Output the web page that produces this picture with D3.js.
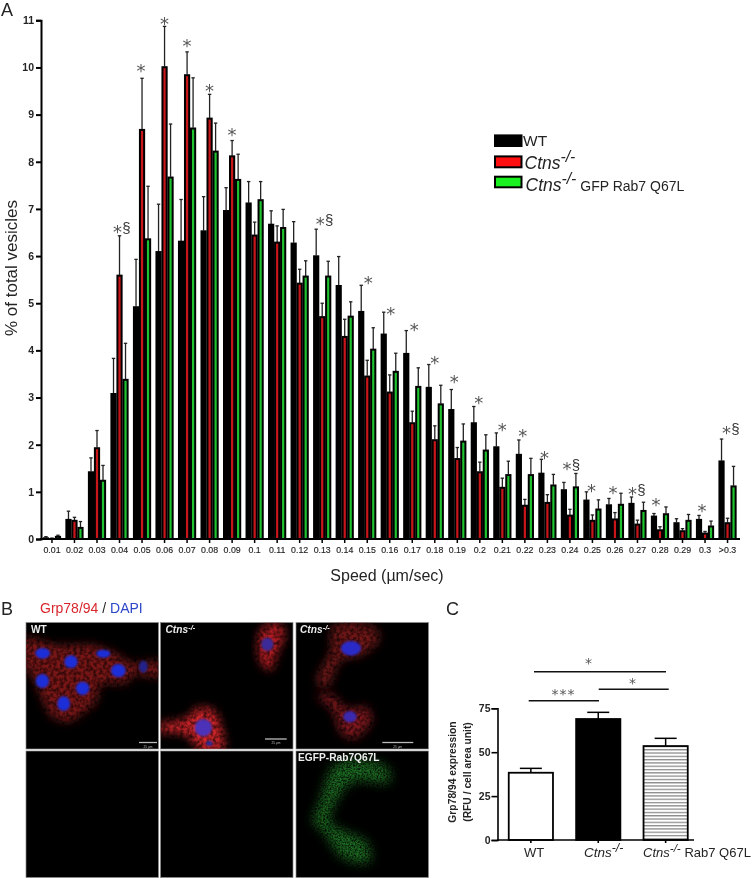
<!DOCTYPE html>
<html><head><meta charset="utf-8">
<script src="https://cdn.jsdelivr.net/npm/d3@7"></script>
<style>
html,body{margin:0;padding:0;background:#fff}
svg{display:block}
text{font-family:"Liberation Sans",Arial,sans-serif;opacity:.99}
</style></head><body><svg id="c" width="754" height="878"></svg>
<script>
const speedCats=["0.01","0.02","0.03","0.04","0.05","0.06","0.07","0.08","0.09","0.1","0.11","0.12","0.13","0.14","0.15","0.16","0.17","0.18","0.19","0.2","0.21","0.22","0.23","0.24","0.25","0.26","0.27","0.28","0.29","0.3",">0.3"];
const seriesNames=["WT","Ctns","GFP"];
const seriesFill=["#000000","#c8161a","#1fc22f"];
const wtVals=[.03,.42,1.43,3.09,4.93,6.1,6.32,6.54,6.97,7.13,6.68,6.28,6.01,5.38,4.83,4.35,3.94,3.22,2.75,2.47,1.96,1.8,1.4,1.05,.83,.73,.76,.49,.35,.42,1.66];
const wtTops=[.05,.59,1.72,3.83,5.93,7.1,7.2,7.26,7.45,7.58,6.96,6.73,6.57,5.99,5.38,4.81,4.42,3.7,3.17,2.81,2.25,2.1,1.69,1.2,1.0,.86,.89,.54,.43,.5,2.12];
const ctnsVals=[.01,.4,1.94,5.6,8.69,10.02,9.85,8.93,8.13,6.45,6.3,5.43,4.72,4.3,3.46,3.12,2.47,2.11,1.71,1.43,1.1,.72,.78,.51,.4,.43,.32,.2,.18,.13,.35];
const ctnsTops=[.02,.46,2.3,6.43,9.77,10.87,10.33,9.43,8.45,6.72,6.64,5.72,5.0,4.66,3.79,3.48,2.71,2.4,1.94,1.63,1.29,.84,.94,.63,.51,.56,.4,.26,.22,.16,.44];
const gfpVals=[.06,.25,1.25,3.39,6.37,7.68,8.72,8.23,7.63,7.2,6.61,5.58,5.58,4.73,4.03,3.56,3.24,2.87,2.08,1.89,1.37,1.37,1.15,1.11,.64,.74,.61,.54,.4,.28,1.13];
const gfpTops=[.08,.37,1.56,4.15,7.48,8.8,9.78,8.82,8.16,7.58,6.99,5.9,5.89,5.03,4.48,3.94,3.63,3.26,2.44,2.21,1.65,1.71,1.37,1.39,.83,.97,.78,.68,.52,.38,1.54];
const sigCats=["0.04","0.05","0.06","0.07","0.08","0.09","0.13","0.15","0.16","0.17","0.18","0.19","0.2","0.21","0.22","0.23","0.24","0.25","0.26","0.27","0.28","0.3",">0.3"];
const sigLevels=[6.6,10.0,11.01,10.53,9.59,8.65,6.77,5.52,4.86,4.51,3.82,3.41,2.96,2.4,2.26,1.8,1.57,1.11,1.06,1.03,.81,.68,2.33];
const sigMarks=["*§","*","*","*","*","*","*§","*","*","*","*","*","*","*","*","*","*§","*","*","*§","*","*","*§"];
const sigShift=[-1,-1,0,0,0,0,-1,1,1,2,0,-3,-1,0,-2,-3,-2,-1,-2,-4,-4,-3,0];
const yTicksA=[0,1,2,3,4,5,6,7,8,9,10,11];
const groupsC=["WT","Ctns","Rab7"];
const valsC=[38.3,68.9,53.5];
const topsC=[40.8,72.7,57.9];
const yTicksC=[0,25,50,75];

const svg=d3.select("#c");
const defs=svg.append("defs");

// ---------- Panel A
const xA=d3.scaleBand().domain(speedCats).range([40.7,738.8]).paddingInner(.2).paddingOuter(.1);
const sub=d3.scaleBand().domain(seriesNames).range([0,xA.bandwidth()]);
const yA=d3.scaleLinear().domain([0,11]).range([539,20.3]);
const gA=svg.append("g");
const sers=[[wtVals,wtTops],[ctnsVals,ctnsTops],[gfpVals,gfpTops]];
sers.forEach(([vals,tops],k)=>{
  const name=seriesNames[k];
  const g=gA.append("g");
  const rows=speedCats.map((c,i)=>({c,v:vals[i],t:tops[i]}));
  const cx=d=>xA(d.c)+sub(name)+sub.bandwidth()/2;
  g.selectAll("line.e").data(rows).join("line").attr("class","e")
    .attr("x1",cx).attr("x2",cx).attr("y1",d=>yA(d.v)).attr("y2",d=>yA(d.t))
    .attr("stroke","#222").attr("stroke-width",1.3);
  g.selectAll("line.c").data(rows).join("line").attr("class","c")
    .attr("x1",d=>cx(d)-1.7).attr("x2",d=>cx(d)+1.7).attr("y1",d=>yA(d.t)).attr("y2",d=>yA(d.t))
    .attr("stroke","#222").attr("stroke-width",1.3);
  g.selectAll("rect").data(rows).join("rect")
    .attr("x",d=>xA(d.c)+sub(name)+.9).attr("width",sub.bandwidth()-1.8)
    .attr("y",d=>yA(d.v)+.7).attr("height",d=>Math.max(0,yA(0)-yA(d.v)-.7))
    .attr("fill",seriesFill[k]).attr("stroke","#000").attr("stroke-width",2);
});
const axA=gA.append("g").attr("transform","translate(41,0)")
  .call(d3.axisLeft(yA).tickValues(yTicksA).tickSize(5).tickPadding(2).tickFormat(d3.format("d")));
axA.selectAll("path,line").attr("stroke","#000").attr("stroke-width",2);
axA.selectAll("text").attr("font-size",10.5).attr("font-weight","bold").attr("fill","#222");
const axAx=gA.append("g").attr("transform","translate(0,539)")
  .call(d3.axisBottom(xA).tickSize(4).tickPadding(4).tickSizeOuter(0));
axAx.selectAll("path,line").attr("stroke","#000").attr("stroke-width",1.5);
axAx.select("path").attr("d","M40,0H740").attr("stroke-width",2);
axAx.selectAll("text").attr("font-size",8.8).attr("fill","#222").attr("stroke","#222").attr("stroke-width",.15);

// significance marks, placed by level in data units
sigCats.forEach((c,i)=>{
  const x=xA(c)+xA.bandwidth()/2+sigShift[i], y=yA(sigLevels[i]);
  const m=sigMarks[i];
  const dx=m.length>1?-1:0;
  gA.append("text").text("*").attr("x",x+dx).attr("y",y+10).attr("text-anchor","middle")
    .attr("font-size",18).style("font-family","DejaVu Sans").attr("fill","#555");
  if(m.length>1) gA.append("text").text("§").attr("x",x+dx+9).attr("y",y+5).attr("text-anchor","middle")
    .attr("font-size",15).attr("fill","#333");
});

gA.append("text").text("% of total vesicles").attr("transform","translate(17,268) rotate(-90)")
  .attr("text-anchor","middle").attr("font-size",17).attr("fill","#222");
gA.append("text").text("Speed (µm/sec)").attr("x",387).attr("y",581).attr("text-anchor","middle")
  .attr("font-size",16).attr("fill","#222");

// legend
const sw=[[134.7,146.7],[155.7,168],[176,188]];
seriesNames.forEach((n,k)=>{
  gA.append("rect").attr("x",495).attr("y",sw[k][0]+.7).attr("width",26.5).attr("height",sw[k][1]-sw[k][0]-1.4)
    .attr("fill",k==0?"#000":k==1?"#ff0f0f":"#18f020").attr("stroke","#000").attr("stroke-width",2);
});
function ctnsLabel(g,x,y,fs,extra,extraFs){
  const t=g.append("text").attr("x",x).attr("y",y).attr("font-size",fs).attr("fill","#222");
  t.append("tspan").text("Ctns").attr("font-style","italic");
  t.append("tspan").text("-/-").attr("font-style","italic").attr("dy",-fs*.36).attr("font-size",fs*.9);
  if(extra) t.append("tspan").text(extra).attr("dy",fs*.36).attr("font-size",extraFs);
  return t;
}
gA.append("text").text("WT").attr("x",523).attr("y",146).attr("font-size",15.5).attr("fill","#222");
ctnsLabel(gA,524.5,168.5,17.5);
ctnsLabel(gA,525.5,190.5,17.5," GFP Rab7 Q67L",14);

// ---------- Panel letters
[["A",1,16.4],["B",1,615],["C",446,615]].forEach(([t,x,y])=>
  svg.append("text").text(t).attr("x",x).attr("y",y).attr("font-size",18).attr("fill","#222"));

// ---------- Panel B : micrograph sketches
const title=svg.append("text").attr("x",40).attr("y",613).attr("font-size",14);
title.append("tspan").text("Grp78/94").attr("fill","#d8242a");
title.append("tspan").text(" / ").attr("fill","#222");
title.append("tspan").text(" DAPI").attr("fill","#2a45c8");

function cellFilter(id,blur,freq,gain,off){
  const f=defs.append("filter").attr("id",id).attr("x","-20%").attr("y","-20%").attr("width","140%").attr("height","140%");
  f.append("feGaussianBlur").attr("in","SourceGraphic").attr("stdDeviation",blur).attr("result","b");
  f.append("feTurbulence").attr("type","fractalNoise").attr("baseFrequency",freq).attr("numOctaves",2).attr("seed",4).attr("result","n");
  f.append("feColorMatrix").attr("in","n").attr("type","matrix")
    .attr("values",`0 0 0 0 0 0 0 0 0 0 0 0 0 0 0 0 0 0 ${gain} ${off}`).attr("result","m");
  f.append("feComposite").attr("in","b").attr("in2","m").attr("operator","in");
}
cellFilter("redTex",15,.1,1.4,.05);
cellFilter("grnTex",16,.2,1.9,-.25);
const soft=defs.append("filter").attr("id","soft");
soft.append("feGaussianBlur").attr("stdDeviation",3);

const panels=[[26,622.5],[160.5,622.5],[296,622.5],[26,751],[160.5,751],[296,751]];
const pW=132.5,pH=126.5;
panels.forEach(([x,y],i)=>{
  defs.append("clipPath").attr("id","p"+i).append("rect").attr("x",x).attr("y",y).attr("width",pW).attr("height",pH);
  svg.append("rect").attr("x",x).attr("y",y).attr("width",pW).attr("height",pH).attr("fill","#000").attr("stroke","#8a8a8a").attr("stroke-width",.7);
});
const line=d3.line().curve(d3.curveCatmullRomClosed.alpha(.5));
function cell(pi,pts,col,tex){
  svg.append("g").attr("clip-path",`url(#p${pi})`).append("g").attr("transform","translate(0,595) scale(.3333)")
    .append("path").attr("d",line(pts)).attr("fill",col).attr("filter",`url(#${tex||"redTex"})`);
}
function nuc(pi,cx,cy,rx,ry,col){
  svg.append("g").attr("clip-path",`url(#p${pi})`).append("g").attr("transform","translate(0,595) scale(.3333)")
    .append("ellipse").attr("cx",cx).attr("cy",cy).attr("rx",rx).attr("ry",ry).attr("fill",col).attr("filter","url(#soft)");
}
cell(0,[[70,130],[170,150],[280,150],[340,170],[400,205],[480,198],[480,245],[400,240],[380,265],[300,270],[290,320],[240,360],[220,378],[160,370],[130,320],[105,260],[70,200]],"#7c1216");
[[128,175,22,16],[213,200,20,19],[310,176,21,12],[355,227,22,20],[127,258,20,21],[248,280,20,20],[191,326,19,22]].forEach(d=>nuc(0,d[0],d[1],d[2],d[3],"#1f2fd8"));
nuc(0,430,215,13,18,"#24248c");
cell(1,[[785,100],[840,85],[855,120],[830,180],[815,225],[795,220],[775,185]],"#b81e22");
cell(1,[[475,390],[560,370],[590,340],[640,345],[665,400],[670,465],[600,465],[560,420],[475,408]],"#d8262a");
nuc(1,802,148,18,20,"#3a2a98");
nuc(1,610,398,26,26,"#4c30b8");
nuc(1,628,445,10,8,"#2a2a98");
cell(2,[[1000,92],[1120,95],[1140,130],[1090,180],[1020,200],[990,270],[960,275],[950,250],[990,170]],"#701318");
cell(2,[[950,300],[1000,300],[1040,340],[1100,335],[1115,380],[1060,432],[1020,410],[1000,350]],"#80151b");
nuc(2,1053,160,30,22,"#2a2ac8");
nuc(2,1050,365,20,17,"#3a2ab0");
cell(5,[[1010,505],[1160,515],[1170,560],[1060,560],[1020,600],[990,680],[1040,710],[1100,740],[1110,800],[1030,790],[970,710],[940,680],[960,620]],"#1c6e20","grnTex");

// panel captions and scale bars
const cap=(x,y,t,it)=>svg.append("text").text(t).attr("x",x).attr("y",y).attr("font-size",10.2).attr("font-weight","bold").attr("fill","#f0f0f0").attr("font-style",it?"italic":"normal");
cap(31,633,"WT");
[[165.5,633],[300,633]].forEach(([x,y])=>{
  const t=cap(x,y,"Ctns",true); t.append("tspan").text("-/-").attr("dy",-3).attr("font-size",7.5);
});
cap(298,761,"EGFP-Rab7Q67L");
[[139,157],[265,286.7],[382.3,413.3]].forEach(([a,b],i)=>{
  svg.append("line").attr("x1",a).attr("x2",b).attr("y1",i==1?739:742.5).attr("y2",i==1?739:742.5).attr("stroke","#bbb").attr("stroke-width",1.3);
  svg.append("text").text("25 µm").attr("x",(a+b)/2).attr("y",i==1?744:747.5).attr("text-anchor","middle").attr("font-size",3.2).attr("fill","#bbb");
});

// ---------- Panel C
const xC=d3.scaleBand().domain(groupsC).range([497.5,699]).paddingInner(.32).paddingOuter(.155);
const yC=d3.scaleLinear().domain([0,75]).range([840,708.3]);
const gC=svg.append("g");
const pat=defs.append("pattern").attr("id","stripes").attr("patternUnits","userSpaceOnUse").attr("width",4).attr("height",3.3);
pat.append("rect").attr("width",4).attr("height",3.3).attr("fill","#fff");
pat.append("rect").attr("width",4).attr("height",1.3).attr("fill","#8c8c8c");
const rowsC=groupsC.map((g,i)=>({g,v:valsC[i],t:topsC[i]}));
gC.selectAll("line.e").data(rowsC).join("line").attr("x1",d=>xC(d.g)+xC.bandwidth()/2).attr("x2",d=>xC(d.g)+xC.bandwidth()/2)
  .attr("y1",d=>yC(d.v)).attr("y2",d=>yC(d.t)).attr("stroke","#000").attr("stroke-width",1.5);
rowsC.forEach(d=>{
  const c=xC(d.g)+xC.bandwidth()/2;
  gC.append("line").attr("x1",c-11).attr("x2",c+11).attr("y1",yC(d.t)).attr("y2",yC(d.t)).attr("stroke","#000").attr("stroke-width",1.5);
});
gC.selectAll("rect").data(rowsC).join("rect").attr("x",d=>xC(d.g)+.8).attr("width",xC.bandwidth()-1.6)
  .attr("y",d=>yC(d.v)).attr("height",d=>yC(0)-yC(d.v))
  .attr("fill",(d,i)=>["#fff","#000","url(#stripes)"][i]).attr("stroke","#000").attr("stroke-width",1.8);
const axC=gC.append("g").attr("transform","translate(497.5,0)")
  .call(d3.axisLeft(yC).tickValues(yTicksC).tickSize(6).tickPadding(1).tickFormat(d3.format("d")));
axC.selectAll("path,line").attr("stroke","#000").attr("stroke-width",1.6);
axC.selectAll("text").attr("font-size",10.5).attr("font-weight","bold").attr("fill","#222");
const axCx=gC.append("g").attr("transform","translate(0,840)").call(d3.axisBottom(xC).tickSize(3).tickSizeOuter(0).tickFormat(""));
axCx.selectAll("path,line").attr("stroke","#000").attr("stroke-width",1.6);
axCx.select("path").attr("d","M497,0H694");
gC.append("text").text("WT").attr("x",534).attr("y",857).attr("text-anchor","middle").attr("font-size",13).attr("fill","#222");
ctnsLabel(gC,584,857,13.5);
ctnsLabel(gC,643,857,13," Rab7 Q67L",13);
[["Grp78/94 expression",456],["(RFU / cell area unit)",471]].forEach(([t,x])=>
  gC.append("text").text(t).attr("transform",`translate(${x},772) rotate(-90)`).attr("text-anchor","middle").attr("font-size",10.3).attr("font-weight","bold").attr("fill","#222"));
[[534,666,671.7],[598.7,668.7,689.3],[528.7,599,700.7]].forEach(([a,b,y])=>
  gC.append("line").attr("x1",a).attr("x2",b).attr("y1",y).attr("y2",y).attr("stroke","#111").attr("stroke-width",1.6));
[["*",589,668.4],["*",633,687.7],["***",563.5,698.7]].forEach(([t,x,y])=>
  gC.append("text").text(t).attr("x",x).attr("y",y).attr("text-anchor","middle").attr("font-size",14).attr("letter-spacing",1).style("font-family","DejaVu Sans").attr("fill","#555"));
</script></body></html>
